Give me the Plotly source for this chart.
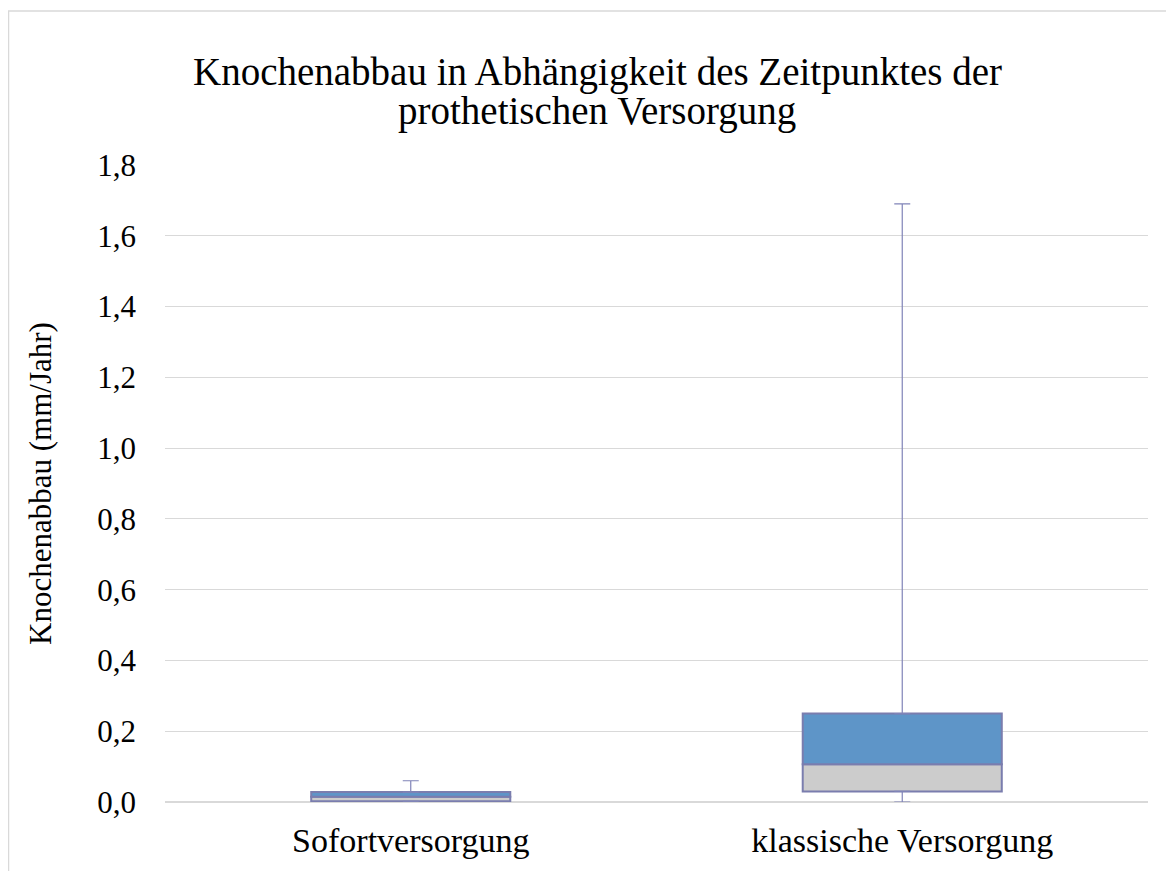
import plotly.graph_objects as go

# box-plot statistics per group (mm/Jahr)
categories = ["Sofortversorgung", "klassische Versorgung"]
minimum = [0.0, 0.0]
q1 = [0.002, 0.03]
median = [0.015, 0.107]
q3 = [0.028, 0.25]
maximum = [0.06, 1.69]

y_ticks = [0.0, 0.2, 0.4, 0.6, 0.8, 1.0, 1.2, 1.4, 1.6, 1.8]
title_lines = ["Knochenabbau in Abhängigkeit des Zeitpunktes der",
               "prothetischen Versorgung"]

FONT = "Liberation Serif"
EDGE = "#7A7DAE"

lower_h = [m - a for m, a in zip(median, q1)]
upper_h = [b - m for b, m in zip(q3, median)]

fig = go.Figure()

# lower box part (Q1 -> median)
fig.add_trace(go.Bar(
    x=categories, y=lower_h, base=q1,
    marker=dict(color="#CCCCCC", line=dict(color=EDGE, width=2)),
    hoverinfo="skip",
))
# upper box part (median -> Q3)
fig.add_trace(go.Bar(
    x=categories, y=upper_h, base=median,
    marker=dict(color="#5E95C8", line=dict(color=EDGE, width=2)),
    hoverinfo="skip",
))
# whiskers
fig.add_trace(go.Scatter(
    x=categories, y=q3, mode="markers", marker=dict(size=0.1, opacity=0),
    error_y=dict(type="data", symmetric=False,
                 array=[mx - b for mx, b in zip(maximum, q3)],
                 arrayminus=[0, 0], color="#8084B8", thickness=1.2, width=8),
    hoverinfo="skip",
))
fig.add_trace(go.Scatter(
    x=categories, y=q1, mode="markers", marker=dict(size=0.1, opacity=0),
    error_y=dict(type="data", symmetric=False, array=[0, 0],
                 arrayminus=[a - mn for a, mn in zip(q1, minimum)],
                 color="#8084B8", thickness=1.2, width=8),
    hoverinfo="skip",
))

# page body has an 8px margin, so figure coords = screen coords - 8
W, H = 1166, 863
L, R, T, B = 157, 26, 157, 69
pw, ph = W - L - R, H - T - B

# title as two annotations (centre y in screen px)
title_y = [72, 111]
annotations = [
    dict(text=txt, xref="paper", yref="paper",
         x=(589 - L) / pw, y=1 + (T - (yy - 8)) / ph,
         xanchor="center", yanchor="middle", showarrow=False,
         font=dict(family=FONT, size=39, color="#000000"))
    for txt, yy in zip(title_lines, title_y)
]

fig.update_layout(
    width=W, height=H,
    margin=dict(l=L, r=R, t=T, b=B),
    plot_bgcolor="white", paper_bgcolor="white",
    barmode="overlay", bargap=0.595,
    showlegend=False,
    separators=", ",
    font=dict(family=FONT, color="#000000"),
    annotations=annotations,
    xaxis=dict(
        showgrid=False, showline=False, zeroline=False,
        tickfont=dict(size=34, family=FONT),
        ticklabelstandoff=15,
    ),
    yaxis=dict(
        range=[0, 1.8], tickvals=y_ticks, tickformat=".1f",
        showgrid=True, gridcolor="#D9D9D9", gridwidth=1,
        zeroline=True, zerolinecolor="#D9D9D9", zerolinewidth=1.5,
        showline=False,
        tickfont=dict(size=31, family=FONT),
        ticklabelstandoff=28,
        title=dict(text="Knochenabbau (mm/Jahr)", font=dict(size=31, family=FONT), standoff=36),
    ),
    shapes=[dict(
        type="rect", xref="paper", yref="paper",
        x0=(0.5 - L) / pw, x1=1.2, y0=-0.3, y1=1 + (T - 3) / ph,
        line=dict(color="#D9D9D9", width=1.5), layer="below",
    )],
)

fig.write_html("out.html")
